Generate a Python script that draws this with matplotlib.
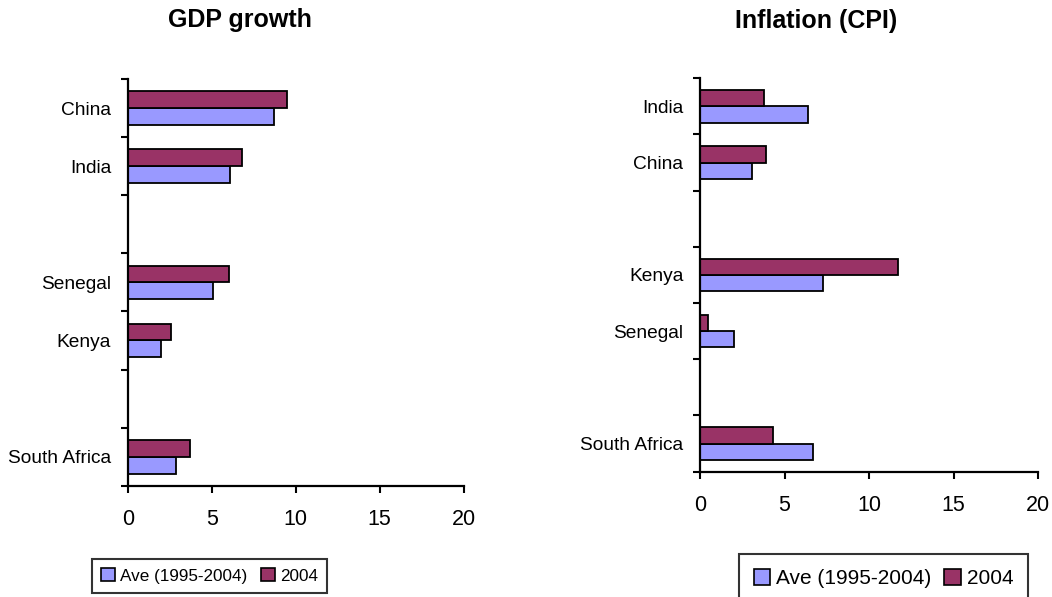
import numpy as np
import matplotlib
matplotlib.use("Agg")
import matplotlib.pyplot as plt
from matplotlib.patches import Patch

# rows listed bottom to top, "" marks an empty gap row
gdp_rows = ["South Africa", "", "Kenya", "Senegal", "", "India", "China"]
gdp_ave = [2.9, np.nan, 2.0, 5.1, np.nan, 6.1, 8.7]
gdp_2004 = [3.7, np.nan, 2.6, 6.0, np.nan, 6.8, 9.5]

cpi_rows = ["South Africa", "", "Senegal", "Kenya", "", "China", "India"]
cpi_ave = [6.7, np.nan, 2.0, 7.3, np.nan, 3.1, 6.4]
cpi_2004 = [4.3, np.nan, 0.5, 11.7, np.nan, 3.9, 3.8]

x_ticks = [0, 5, 10, 15, 20]
series_labels = ["Ave (1995-2004)", "2004"]

BLUE = "#9999FF"
MAROON = "#993366"

plt.rcParams["font.family"] = ["Liberation Sans", "DejaVu Sans"]

fig = plt.figure(figsize=(10.52, 5.97), dpi=100)
ax1 = fig.add_axes([0.1214, 0.1864, 0.3194, 0.6812])
ax2 = fig.add_axes([0.6654, 0.2099, 0.3216, 0.6590])


def draw_panel(ax, rows, ave, latest):
    pos = np.arange(len(rows)) + 0.5
    h = 0.29
    ax.barh(pos - h / 2, ave, height=h, color=BLUE, edgecolor="black", linewidth=1.3)
    ax.barh(pos + h / 2, latest, height=h, color=MAROON, edgecolor="black", linewidth=1.3)
    ax.set_xlim(0, 20)
    ax.set_ylim(0, len(rows))
    ax.set_xticks(x_ticks)
    ax.set_yticks(np.arange(len(rows) + 1))
    ax.set_yticklabels([])
    ax.set_yticks(pos, minor=True)
    ax.set_yticklabels(rows, minor=True, fontsize=13.8)
    ax.tick_params(axis="y", which="minor", length=0, pad=12)
    ax.tick_params(axis="y", which="major", length=5, width=1.5)
    ax.tick_params(axis="x", length=5, width=1.5, pad=12, labelsize=15.5)
    for side in ["top", "right"]:
        ax.spines[side].set_visible(False)
    for side in ["left", "bottom"]:
        ax.spines[side].set_linewidth(1.6)


draw_panel(ax1, gdp_rows, gdp_ave, gdp_2004)
draw_panel(ax2, cpi_rows, cpi_ave, cpi_2004)

fig.text(240 / 1052, 1 - 27 / 597, "GDP growth", fontsize=18, fontweight="bold",
         ha="center", va="baseline")
fig.text(816 / 1052, 1 - 28 / 597, "Inflation (CPI)", fontsize=18, fontweight="bold",
         ha="center", va="baseline")

handles = [Patch(facecolor=BLUE, edgecolor="black", linewidth=1.2),
           Patch(facecolor=MAROON, edgecolor="black", linewidth=1.2)]

leg1 = fig.legend(handles, series_labels, loc="upper left",
                  bbox_to_anchor=(92 / 1052, 1 - 559 / 597), ncol=2,
                  fontsize=12.3, frameon=True, fancybox=False, borderpad=0.55,
                  handlelength=0.8, handleheight=0.8, handletextpad=0.3,
                  columnspacing=0.8, borderaxespad=0)
leg1.get_frame().set_edgecolor("black")
leg1.get_frame().set_linewidth(1.5)

leg2 = fig.legend(handles, series_labels, loc="upper left",
                  bbox_to_anchor=(739 / 1052, 1 - 554 / 597), ncol=2,
                  fontsize=15, frameon=True, fancybox=False, borderpad=0.7,
                  handlelength=0.8, handleheight=0.8, handletextpad=0.3,
                  columnspacing=0.6, borderaxespad=0)
leg2.get_frame().set_edgecolor("black")
leg2.get_frame().set_linewidth(1.5)

fig.savefig("out.png", dpi=100)
